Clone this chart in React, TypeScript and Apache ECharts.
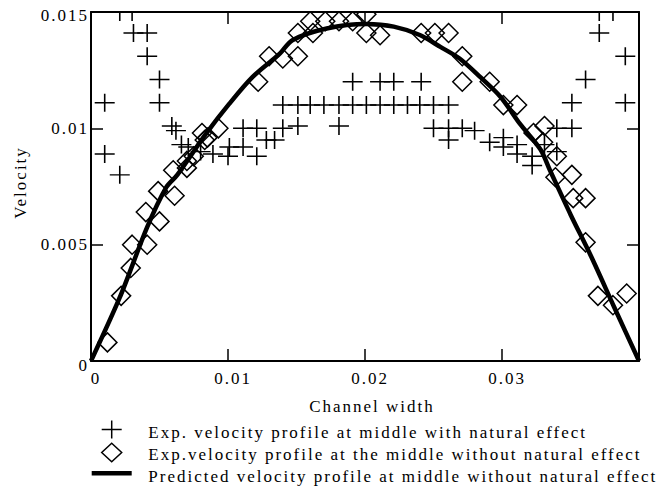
import React, { useEffect, useRef } from 'react';
import * as echarts from 'echarts';

const seriesNames = [
  'Exp. velocity profile at middle with natural effect',
  'Exp.velocity profile at the middle without natural effect',
  'Predicted velocity profile at middle without natural effect',
];

const xTickLabels = ['0', '0.01', '0.02', '0.03'];
const yTickLabels = ['0', '0.005', '0.01', '0.015'];

// Exp. velocity profile at middle with natural effect (crosses)
const withNatural: [number, number][] = [
  [0.0021, 0.015], [0.003, 0.015], [0.0031, 0.0141], [0.0041, 0.0141],
  [0.0041, 0.0131], [0.005, 0.0121], [0.005, 0.0111], [0.001, 0.0111],
  [0.001, 0.0089], [0.0021, 0.008],
  [0.0059, 0.0101], [0.0062, 0.0099], [0.0066, 0.0093], [0.0071, 0.0092],
  [0.008, 0.009], [0.0089, 0.0089], [0.01, 0.0088], [0.0101, 0.0092],
  [0.0111, 0.0092], [0.0111, 0.01], [0.0121, 0.01], [0.0121, 0.0088],
  [0.0128, 0.0095], [0.0134, 0.0095], [0.014, 0.01], [0.0151, 0.0101],
  [0.0181, 0.0101],
  [0.014, 0.011], [0.0151, 0.011], [0.016, 0.011], [0.017, 0.011],
  [0.0181, 0.011], [0.0191, 0.011], [0.0201, 0.011], [0.0211, 0.011],
  [0.0221, 0.011], [0.0231, 0.011], [0.024, 0.011], [0.025, 0.011],
  [0.0261, 0.011],
  [0.0191, 0.012], [0.0211, 0.012], [0.0221, 0.012], [0.0241, 0.012],
  [0.025, 0.01], [0.0261, 0.01], [0.0261, 0.0095], [0.0271, 0.01],
  [0.0280, 0.0099], [0.0291, 0.0094], [0.0301, 0.0096], [0.0301, 0.0092],
  [0.0311, 0.0093], [0.0311, 0.0089], [0.0322, 0.0088], [0.0322, 0.0084],
  [0.0331, 0.0093], [0.034, 0.009], [0.034, 0.01], [0.0351, 0.01],
  [0.0351, 0.0111], [0.0361, 0.0121], [0.0371, 0.0141], [0.0371, 0.015],
  [0.0381, 0.015], [0.039, 0.0131], [0.039, 0.0111],
];

// Exp. velocity profile at the middle without natural effect (diamonds)
const withoutNatural: [number, number][] = [
  [0.0012, 0.0008], [0.0022, 0.0028], [0.0029, 0.004], [0.003, 0.005],
  [0.0041, 0.005], [0.004, 0.0064], [0.005, 0.006], [0.0049, 0.0073],
  [0.0061, 0.0071], [0.006, 0.0082], [0.007, 0.0083], [0.007, 0.0086],
  [0.0075, 0.0088], [0.0081, 0.0098], [0.0083, 0.0095], [0.0085, 0.0096],
  [0.0093, 0.01], [0.0122, 0.012], [0.013, 0.0131], [0.014, 0.013],
  [0.0151, 0.0131], [0.0151, 0.0141], [0.016, 0.0146], [0.0162, 0.0141],
  [0.0171, 0.0146], [0.0181, 0.0146], [0.0191, 0.0146], [0.0201, 0.0149],
  [0.0201, 0.0141], [0.0211, 0.014], [0.0241, 0.0141], [0.0251, 0.0141],
  [0.0261, 0.0141], [0.0271, 0.0131], [0.0271, 0.012], [0.0291, 0.012],
  [0.0301, 0.011], [0.0311, 0.011], [0.0323, 0.0098], [0.0331, 0.0101],
  [0.033, 0.0094], [0.034, 0.0088], [0.0351, 0.008], [0.0339, 0.0079],
  [0.0352, 0.007], [0.0361, 0.007], [0.0361, 0.0051], [0.037, 0.0028],
  [0.0381, 0.0024], [0.0391, 0.0029],
];

// Predicted velocity profile (thick line)
const predicted: [number, number][] = [
  [0, 0], [0.0021, 0.00273], [0.0041, 0.00575], [0.0055, 0.00747],
  [0.0063, 0.008], [0.0084, 0.00977], [0.0101, 0.01106], [0.0118, 0.01221],
  [0.0138, 0.01322], [0.0147, 0.01379], [0.0172, 0.01429], [0.0201, 0.01448],
  [0.0221, 0.01437], [0.024, 0.01401], [0.0255, 0.0135], [0.0269, 0.013],
  [0.0284, 0.01221], [0.0299, 0.01135], [0.0313, 0.0102], [0.0328, 0.0091],
  [0.0335, 0.0082], [0.035, 0.0063], [0.0365, 0.0045], [0.0382, 0.0023],
  [0.04, 0],
];

const FONT = '"Liberation Serif", "Times New Roman", serif';
const FS = 17;

export default function App() {
  const ref = useRef<HTMLDivElement>(null);

  useEffect(() => {
    if (!ref.current) return;
    const chart = echarts.init(ref.current, null, { renderer: 'svg' });

    const frameLine = { show: true, onZero: false, lineStyle: { color: '#000', width: 2 } };
    const tick = { show: true, inside: true, length: 12, lineStyle: { color: '#000', width: 1.5 } };
    const labelBase = { fontFamily: FONT, fontSize: FS, color: '#000' };

    const option: any = {
      animation: false,
      backgroundColor: '#fff',
      textStyle: { fontFamily: FONT, fontSize: FS, color: '#000' },
      grid: { left: 91, right: 27, top: 12, bottom: 130, containLabel: false },
      xAxis: [
        {
          type: 'value', min: 0, max: 0.04, interval: 0.01, position: 'bottom',
          name: 'Channel width', nameLocation: 'middle', nameGap: 37,
          nameTextStyle: { ...labelBase, padding: [0, 0, 0, 14] },
          axisLine: frameLine, axisTick: tick, splitLine: { show: false },
          axisLabel: {
            ...labelBase, margin: 9, padding: [0, 0, 0, 10],
            formatter: (v: number) => {
              const i = Math.round(v / 0.01);
              return i < xTickLabels.length ? xTickLabels[i] : '';
            },
          },
        },
        {
          type: 'value', min: 0, max: 0.04, interval: 0.01, position: 'top',
          axisLine: frameLine, axisTick: tick, splitLine: { show: false },
          axisLabel: { show: false },
        },
      ],
      yAxis: [
        {
          type: 'value', min: 0, max: 0.015, interval: 0.005, position: 'left',
          name: 'Velocity', nameLocation: 'middle', nameGap: 62,
          nameTextStyle: { ...labelBase, padding: [0, 0, 0, 8] },
          axisLine: frameLine, axisTick: tick, splitLine: { show: false },
          axisLabel: {
            ...labelBase, margin: 2,
            formatter: (v: number) => {
              const i = Math.round(v / 0.005);
              const t = yTickLabels[i] ?? '';
              if (i === 0) return '{lo|' + t + '}';
              if (i === yTickLabels.length - 1) return '{hi|' + t + '}';
              return t;
            },
            rich: {
              lo: { ...labelBase, padding: [8, 0, 0, 0] },
              hi: { ...labelBase, padding: [7, 0, 0, 0] },
            },
          },
        },
        {
          type: 'value', min: 0, max: 0.015, interval: 0.005, position: 'right',
          axisLine: frameLine, axisTick: tick, splitLine: { show: false },
          axisLabel: { show: false },
        },
      ],
      series: [
        {
          name: seriesNames[0], type: 'scatter', data: withNatural,
          symbol: 'path://M0,9H20M10,0V18', symbolSize: [20, 18],
          itemStyle: { color: 'transparent', borderColor: '#000', borderWidth: 1.5, opacity: 1 },
          z: 2,
        },
        {
          name: seriesNames[1], type: 'scatter', data: withoutNatural,
          symbol: 'diamond', symbolSize: [19, 19],
          itemStyle: { color: 'transparent', borderColor: '#000', borderWidth: 1.5, opacity: 1 },
          z: 2,
        },
        {
          name: seriesNames[2], type: 'line', data: predicted,
          symbol: 'none', showSymbol: false, smooth: 0.3,
          lineStyle: { color: '#000', width: 4.5 },
          z: 3,
        },
      ],
      graphic: [
        // hides the parts of markers that spill above the frame
        { type: 'rect', shape: { x: 88, y: 0, width: 578, height: 11 }, style: { fill: '#fff' }, z: 100 },
        // legend
        { type: 'line', shape: { x1: 101.7, y1: 429.5, x2: 121.7, y2: 429.5 }, style: { stroke: '#000', lineWidth: 1.5 } },
        { type: 'line', shape: { x1: 111.7, y1: 420.5, x2: 111.7, y2: 438.5 }, style: { stroke: '#000', lineWidth: 1.5 } },
        {
          type: 'polygon',
          shape: { points: [[111.7, 443.3], [121.7, 452.5], [111.7, 461.7], [101.7, 452.5]] },
          style: { fill: 'none', stroke: '#000', lineWidth: 1.5 },
        },
        { type: 'rect', shape: { x: 91.7, y: 471, width: 40, height: 4.5 }, style: { fill: '#000' } },
        { type: 'text', x: 148.3, y: 432, style: { text: seriesNames[0], font: `${FS}px ${FONT}`, fill: '#000', verticalAlign: 'middle', align: 'left' } },
        { type: 'text', x: 148.3, y: 454, style: { text: seriesNames[1], font: `${FS}px ${FONT}`, fill: '#000', verticalAlign: 'middle', align: 'left' } },
        { type: 'text', x: 148.3, y: 476, style: { text: seriesNames[2], font: `${FS}px ${FONT}`, fill: '#000', verticalAlign: 'middle', align: 'left' } },
      ],
    };

    chart.setOption(option);
    return () => chart.dispose();
  }, []);

  return (
    <div
      ref={ref}
      style={{ position: 'fixed', left: 0, top: 0, width: 666, height: 491, letterSpacing: '2px', background: '#fff' }}
    />
  );
}
